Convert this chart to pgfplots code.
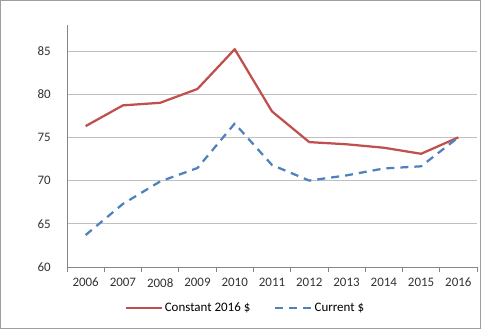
\documentclass[border=0pt]{standalone}
\usepackage{pgfplots}
\pgfplotsset{compat=1.18}
\usepackage{fontspec}
\setmainfont{Carlito}
\definecolor{cred}{HTML}{C0504D}
\definecolor{cblue}{HTML}{4F81BD}
\definecolor{gridc}{HTML}{BFBFBF}
\definecolor{axc}{HTML}{868686}
\begin{document}
\begin{tikzpicture}
\draw[line width=1bp, color=axc!80] (0.5bp,0.5bp) rectangle (480.5bp,328.5bp);
\begin{axis}[
  at={(67bp,62bp)}, anchor=south west,
  width=410bp, height=242bp, scale only axis,
  xmin=-0.5, xmax=10.5, ymin=60, ymax=88,
  axis lines*=left,
  axis line style={color=axc, line width=0.75bp},
  xtick={0,...,10},
  xticklabels={2006,2007,2008,2009,2010,2011,2012,2013,2014,2015,2016},
  minor xtick={-0.5,0.5,...,10.5},
  major tick length=0pt,
  minor tick length=5bp,
  tick align=outside,
  minor tick style={color=axc, line width=0.75bp},
  ytick={60,65,...,85},
  ymajorgrids,
  grid style={color=gridc, line width=0.75bp},
  /pgf/number format/assume math mode=true,
  tick label style={font=\fontsize{13}{15}\selectfont, color=black!80},
  yticklabel style={inner sep=0pt, xshift=-16bp},
  xticklabel style={inner sep=0pt, yshift=-11bp},
  legend style={at={(axis description cs:0.435,-0.17)}, anchor=center, draw=none, fill=none,
    font=\fontsize{13}{15}\selectfont, legend columns=2,
    /tikz/every even column/.append style={column sep=22bp}},
  legend cell align=left,
  legend image code/.code={\draw[#1] (0bp,0bp) -- (36bp,0bp);},
  clip=false,
]
\addplot[color=cred, line width=2.25bp, line join=round] coordinates {
(0,76.3) (1,78.7) (2,79.0) (3,80.6) (4,85.2) (5,78.0) (6,74.45) (7,74.2) (8,73.8) (9,73.1) (10,75.0)};
\addlegendentry{Constant 2016 \$}
\addplot[color=cblue, line width=2.25bp, dash pattern=on 8bp off 6bp, line join=round] coordinates {
(0,63.7) (1,67.3) (2,69.9) (3,71.45) (4,76.6) (5,71.8) (6,70.0) (7,70.6) (8,71.4) (9,71.65) (10,75.0)};
\addlegendentry{Current \$}
\end{axis}
\end{tikzpicture}
\end{document}
